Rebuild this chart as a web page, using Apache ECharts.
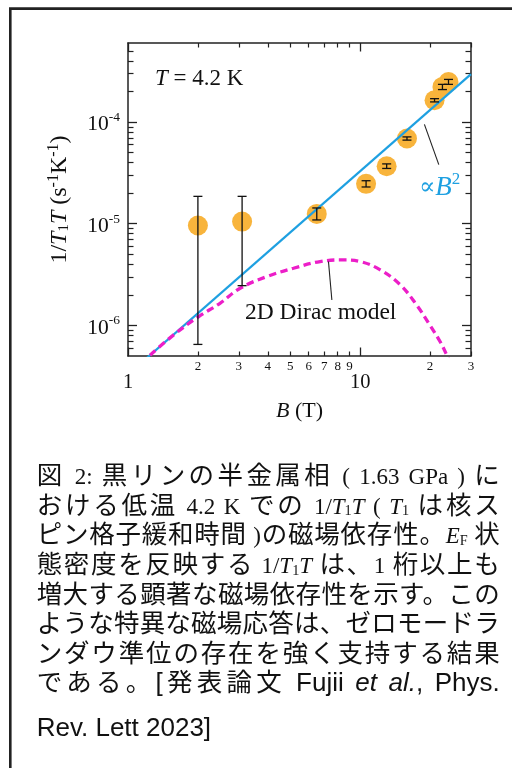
<!DOCTYPE html>
<html>
<head>
<meta charset="utf-8">
<script src="https://cdn.jsdelivr.net/npm/echarts@6/dist/echarts.min.js"></script>
<style>
html,body{margin:0;padding:0;background:#fff;}
#chart{position:absolute;left:0;top:0;width:512px;height:768px;}
#cap{position:absolute;left:36.7px;top:458px;width:463px;font-family:"Noto Sans CJK JP";font-size:25.5px;color:#111;}
.ln{height:29.65px;line-height:29.65px;text-align:justify;text-align-last:justify;}
.ln.last{margin-top:14.4px;text-align:left;text-align-last:left;}
.s{font-family:"Liberation Serif";font-size:23px;}
.a{font-family:"Liberation Sans";font-size:26px;}
sub{font-size:0.62em;vertical-align:baseline;position:relative;top:0.12em;}
</style>
</head>
<body>
<div id="chart"></div>
<div id="cap">
<div class="ln">図 <span class="s">2:</span> 黒リンの半金属相 <span class="s">( 1.63 GPa )</span> に</div>
<div class="ln">おける低温 <span class="s">4.2 K</span> での <span class="s">1/<i>T</i><sub>1</sub><i>T</i> ( <i>T</i><sub>1</sub></span> は核ス</div>
<div class="ln">ピン格子緩和時間 <span class="s">)</span>の磁場依存性。<span class="s"><i>E</i><sub>F</sub></span> 状</div>
<div class="ln">態密度を反映する <span class="s">1/<i>T</i><sub>1</sub><i>T</i></span> は、<span class="s">1</span> 桁以上も</div>
<div class="ln">増大する顕著な磁場依存性を示す。この</div>
<div class="ln">ような特異な磁場応答は、ゼロモードラ</div>
<div class="ln">ンダウ準位の存在を強く支持する結果</div>
<div class="ln">である。<span class="a">[</span>発表論文 <span class="a">Fujii <i>et al.</i>, Phys.</span></div>
<div class="ln last"><span class="a">Rev. Lett 2023]</span></div>
</div>
<script>
// ---- data ----
const xMajorTicks = [1, 10];
const xMajorLabels = ['1', '10'];
const xMinorTicks = [2, 3, 4, 5, 6, 7, 8, 9, 20, 30];
const xMinorLabels = ['2', '3', '4', '5', '6', '7', '8', '9', '2', '3'];
const yMajorTicks = [1e-6, 1e-5, 1e-4];
const yMajorExponents = ['-6', '-5', '-4'];
const yMinorTicks = [6e-7, 7e-7, 8e-7, 9e-7,
  2e-6, 3e-6, 4e-6, 5e-6, 6e-6, 7e-6, 8e-6, 9e-6,
  2e-5, 3e-5, 4e-5, 5e-5, 6e-5, 7e-5, 8e-5, 9e-5,
  2e-4, 3e-4, 4e-4, 5e-4];

const fieldB   = [2.0, 3.1, 6.5, 10.6, 13.0, 15.9, 20.9, 22.6, 24.0];
const rate     = [9.6e-6, 1.05e-5, 1.25e-5, 2.47e-5, 3.68e-5, 6.9e-5, 1.64e-4, 2.22e-4, 2.48e-4];
const rateLow  = [6.5e-7, 2.46e-6, 1.09e-5, 2.3e-5, 3.5e-5, 6.65e-5, 1.58e-4, 2.09e-4, 2.35e-4];
const rateHigh = [1.86e-5, 1.86e-5, 1.43e-5, 2.65e-5, 3.88e-5, 7.15e-5, 1.70e-4, 2.35e-4, 2.63e-4];

const fitB    = [1, 30];
const fitRate = [3.29e-7, 2.96e-4];

const diracB    = [1.244, 1.568, 2.01, 2.49, 3.04, 3.96, 5.16, 6.72, 8.47, 10.0, 12.2, 14.9, 17.5, 20.0, 22.1, 23.6, 24.3];
const diracRate = [5.09e-7, 8.02e-7, 1.216e-6, 1.65e-6, 2.32e-6, 3.02e-6, 3.65e-6, 4.25e-6, 4.41e-6, 4.25e-6, 3.52e-6, 2.50e-6, 1.585e-6, 1.0e-6, 6.9e-7, 5.09e-7, 4.3e-7];

const fitLeader   = [[18.9, 9.5e-5], [21.8, 3.82e-5]];
const diracLeader = [[7.30, 4.25e-6], [7.55, 1.78e-6]];

// ---- chart ----
const SERIF = 'Liberation Serif';
const INK = '#111';
const AXC = '#222';
const BLUE = '#1EA0E1';
const X_MIN = 1, X_MAX = 30, Y_MIN = 5e-7, Y_MAX = 6e-4;

function nearestIndex(arr, v) {
  let best = 0, bd = Infinity;
  arr.forEach((a, i) => { const d = Math.abs(Math.log(a) - Math.log(v)); if (d < bd) { bd = d; best = i; } });
  return best;
}

function xAx(opts) {
  return Object.assign({
    type: 'log', logBase: 10, min: X_MIN, max: X_MAX, gridIndex: 0,
    axisLine: { show: true, onZero: false, lineStyle: { color: AXC, width: 1.5 } },
    splitLine: { show: false }, minorTick: { show: false },
    axisTick: { show: true, inside: true },
    axisLabel: { show: false }
  }, opts);
}
function yAx(opts) {
  return Object.assign({
    type: 'log', logBase: 10, min: Y_MIN, max: Y_MAX, gridIndex: 0,
    axisLine: { show: true, onZero: false, lineStyle: { color: AXC, width: 1.5 } },
    splitLine: { show: false }, minorTick: { show: false },
    axisTick: { show: true, inside: true },
    axisLabel: { show: false }
  }, opts);
}

const chart = echarts.init(document.getElementById('chart'), null, { renderer: 'canvas' });

const option = {
  animation: false,
  backgroundColor: '#fff',
  grid: { left: 128, right: 41, top: 43, bottom: 412, containLabel: false },
  xAxis: [
    xAx({
      position: 'bottom',
      axisTick: { show: true, inside: true, length: 8.5, customValues: xMajorTicks, lineStyle: { color: AXC, width: 1.3 } },
      axisLabel: {
        show: true, customValues: xMajorTicks, margin: 16,
        fontFamily: SERIF, fontSize: 20.5, color: INK,
        formatter: v => xMajorLabels[nearestIndex(xMajorTicks, v)]
      },
      name: '{i|B}{n| (T)}', nameLocation: 'middle', nameGap: 44,
      nameTextStyle: {
        rich: {
          i: { fontFamily: SERIF, fontSize: 22, fontStyle: 'italic', color: INK },
          n: { fontFamily: SERIF, fontSize: 22, color: INK }
        }
      }
    }),
    xAx({
      position: 'bottom', axisLine: { show: false },
      axisTick: { show: true, inside: true, length: 4.5, customValues: xMinorTicks, lineStyle: { color: AXC, width: 1.2 } },
      axisLabel: {
        show: true, customValues: xMinorTicks, margin: 4,
        fontFamily: SERIF, fontSize: 13, color: INK,
        formatter: v => xMinorLabels[nearestIndex(xMinorTicks, v)]
      }
    }),
    xAx({
      position: 'top',
      axisTick: { show: true, inside: true, length: 8.5, customValues: xMajorTicks, lineStyle: { color: AXC, width: 1.3 } }
    }),
    xAx({
      position: 'top', axisLine: { show: false },
      axisTick: { show: true, inside: true, length: 4.5, customValues: xMinorTicks, lineStyle: { color: AXC, width: 1.2 } }
    })
  ],
  yAxis: [
    yAx({
      position: 'left',
      axisTick: { show: true, inside: true, length: 9, customValues: yMajorTicks, lineStyle: { color: AXC, width: 1.3 } },
      axisLabel: {
        show: true, customValues: yMajorTicks, margin: 8,
        formatter: v => '{b|10}{s|' + yMajorExponents[nearestIndex(yMajorTicks, v)] + '}',
        rich: {
          b: { fontFamily: SERIF, fontSize: 21.5, color: INK, lineHeight: 23, padding: [5, 0, 0, 0] },
          s: { fontFamily: SERIF, fontSize: 13.5, color: INK, lineHeight: 13.5, verticalAlign: 'top' }
        }
      },
      name: '{n|1/}{i|T}{sb|1}{i|T}{n| (s}{sp|-1}{n|K}{sp|-1}{n|)}',
      nameLocation: 'middle', nameRotate: 90, nameGap: 42,
      nameTextStyle: {
        rich: {
          n: { fontFamily: SERIF, fontSize: 24, color: INK, lineHeight: 26, padding: [7, 0, 5, 0] },
          i: { fontFamily: SERIF, fontSize: 24, fontStyle: 'italic', color: INK, lineHeight: 26, padding: [7, 0, 5, 0] },
          sb: { fontFamily: SERIF, fontSize: 15, color: INK, lineHeight: 15, verticalAlign: 'bottom' },
          sp: { fontFamily: SERIF, fontSize: 16, color: INK, lineHeight: 16, verticalAlign: 'top' }
        }
      }
    }),
    yAx({
      position: 'left', axisLine: { show: false },
      axisTick: { show: true, inside: true, length: 5.5, customValues: yMinorTicks, lineStyle: { color: AXC, width: 1.2 } }
    }),
    yAx({
      position: 'right',
      axisTick: { show: true, inside: true, length: 9, customValues: yMajorTicks, lineStyle: { color: AXC, width: 1.3 } }
    }),
    yAx({
      position: 'right', axisLine: { show: false },
      axisTick: { show: true, inside: true, length: 5.5, customValues: yMinorTicks, lineStyle: { color: AXC, width: 1.2 } }
    })
  ],
  graphic: [
    { type: 'rect', silent: true, z: 100,
      shape: { x: 10.3, y: 8.6, width: 620, height: 820 },
      style: { fill: 'none', stroke: '#222', lineWidth: 2.6 } },
    { type: 'text', x: 155, y: 79, z: 50,
      style: {
        text: '{i|T}{n| = 4.2 K}', verticalAlign: 'middle', align: 'left',
        rich: {
          i: { fontFamily: SERIF, fontSize: 23, fontStyle: 'italic', fill: INK },
          n: { fontFamily: SERIF, fontSize: 23, fill: INK }
        }
      } },
    { type: 'text', x: 419, y: 185, z: 50,
      style: {
        text: '{n|\u221D}{i|B}{sp|2}', verticalAlign: 'middle', align: 'left',
        rich: {
          n: { fontFamily: 'DejaVu Serif', fontSize: 24, fill: BLUE, lineHeight: 28, padding: [6, 0, 0, 0] },
          i: { fontFamily: SERIF, fontSize: 27, fontStyle: 'italic', fill: BLUE, lineHeight: 28, padding: [6, 0, 0, 0] },
          sp: { fontFamily: SERIF, fontSize: 17, fill: BLUE, lineHeight: 17, verticalAlign: 'top' }
        }
      } },
    { type: 'text', x: 245, y: 313, z: 50,
      style: {
        text: '2D Dirac model', verticalAlign: 'middle', align: 'left',
        fontFamily: SERIF, fontSize: 23.5, fill: INK
      } }
  ],
  series: [
    {
      name: 'data', type: 'scatter', xAxisIndex: 0, yAxisIndex: 0, z: 2,
      symbol: 'circle', symbolSize: 20,
      itemStyle: { color: '#F8B43C', opacity: 1 },
      data: fieldB.map((b, i) => [b, rate[i]])
    },
    {
      name: 'B2', type: 'line', xAxisIndex: 0, yAxisIndex: 0, z: 3,
      showSymbol: false, symbol: 'none', clip: true,
      lineStyle: { color: BLUE, width: 2.2 },
      data: fitB.map((b, i) => [b, fitRate[i]]),
      markLine: {
        silent: true, symbol: ['none', 'none'], label: { show: false },
        lineStyle: { color: '#222', width: 1.1, type: 'solid' },
        data: [[{ coord: fitLeader[0] }, { coord: fitLeader[1] }]]
      }
    },
    {
      name: 'dirac', type: 'line', xAxisIndex: 0, yAxisIndex: 0, z: 3,
      showSymbol: false, symbol: 'none', clip: true, smooth: 0.4,
      lineStyle: { color: '#EC1EC8', width: 3.3, type: [7.5, 4.5] },
      data: diracB.map((b, i) => [b, diracRate[i]]),
      markLine: {
        silent: true, symbol: ['none', 'none'], label: { show: false },
        lineStyle: { color: '#222', width: 1.1, type: 'solid' },
        data: [[{ coord: diracLeader[0] }, { coord: diracLeader[1] }]]
      }
    },
    {
      name: 'err', type: 'custom', xAxisIndex: 0, yAxisIndex: 0, z: 4,
      data: fieldB.map((b, i) => [b, rateLow[i], rateHigh[i]]),
      encode: { x: 0, y: [1, 2] },
      renderItem: function (params, api) {
        const x = api.value(0);
        const p1 = api.coord([x, api.value(1)]);
        const p2 = api.coord([x, api.value(2)]);
        const w = 4.5;
        const st = { stroke: '#111', lineWidth: 1.3 };
        return {
          type: 'group',
          children: [
            { type: 'line', shape: { x1: p1[0], y1: p1[1], x2: p2[0], y2: p2[1] }, style: st },
            { type: 'line', shape: { x1: p1[0] - w, y1: p1[1], x2: p1[0] + w, y2: p1[1] }, style: st },
            { type: 'line', shape: { x1: p2[0] - w, y1: p2[1], x2: p2[0] + w, y2: p2[1] }, style: st }
          ]
        };
      }
    }
  ]
};

chart.setOption(option);
</script>
</body>
</html>
